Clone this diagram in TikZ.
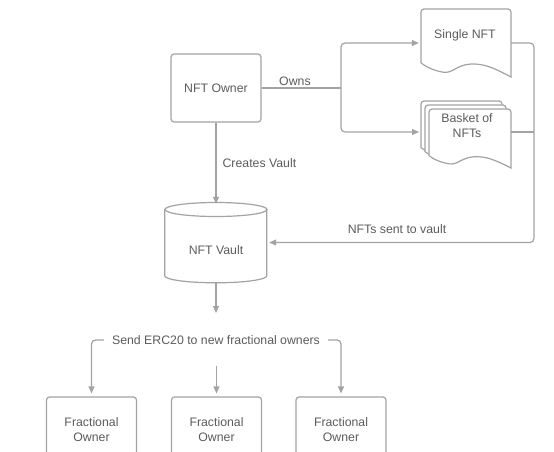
\documentclass[tikz,border=0pt]{standalone}
\usepackage{fontspec}
\setmainfont{Liberation Sans}
\usetikzlibrary{arrows.meta}
\definecolor{lnc}{HTML}{A3A3A3}
\definecolor{txc}{HTML}{5C5C5C}
\newcommand\docshape[4]{%
  \begin{scope}[shift={(#1,#2)},xscale=#3,yscale=#4]
    \draw[docline] (0,0.79) {[rounded corners=3pt] -- (0,0) -- (1,0) -- (1,0.5)} -- (1,1)
      .. controls (0.8,0.86) and (0.7,0.80) .. (0.55,0.81)
      .. controls (0.4,0.82) and (0.35,0.95) .. (0.25,0.93)
      .. controls (0.15,0.91) and (0.05,0.85) .. (0,0.79) -- cycle;
  \end{scope}}
\tikzset{
  lbl/.style={text=txc, font=\fontsize{12.3}{15}\selectfont, inner sep=2pt},
  boxnode/.style={draw=lnc, line width=1.2pt, rounded corners=3pt, fill=white, text=txc,
     font=\fontsize{12.3}{15}\selectfont, align=center},
  ghost/.style={inner sep=0pt, text=txc, font=\fontsize{12.3}{15}\selectfont, align=center},
  docline/.style={draw=lnc, line width=1.2pt, fill=white},
  conn/.style={draw=lnc, line width=1.2pt, rounded corners=4pt},
  arr/.style={conn, -{Triangle[length=7pt,width=6pt]}},
}
\begin{document}
\begin{tikzpicture}[x=1pt,y=-1pt]
\useasboundingbox[fill=white] (0,0) rectangle (554,451);
\clip (0,0) rectangle (554,451);

% NFT Owner
\node[boxnode, minimum width=90pt, minimum height=68pt] (owner) at (216,88) {NFT Owner};

% Single NFT document
\docshape{421}{9}{90}{68}
\node[ghost, minimum width=90pt, minimum height=68pt] (single) at (466,43) {};
\node[lbl] (singletxt) at (465,35) {Single NFT};

% Basket of NFTs (stacked documents)
\docshape{421}{101}{81}{59}
\docshape{425}{105}{81}{59}
\docshape{429}{109}{82}{59}
\coordinate (basketl) at (421,132);
\coordinate (basketr) at (511,132);
\node[ghost] (baskettxt) at (467,126) {Basket of\\NFTs};

% NFT Vault (cylinder)
\node[ghost, minimum width=102pt, minimum height=81pt] (vault) at (216,242.5) {};
\draw[docline] (vault.north west) ++(0,7) -- ++(0,67)
   arc[start angle=180, end angle=0, x radius=51, y radius=7] -- ++(0,-67);
\draw[docline] (216,209.5) ellipse [x radius=51, y radius=7];
\node[lbl] (vaulttxt) at (216,250) {NFT Vault};

% Owns
\coordinate (junc) at (341,88);
\draw[conn] (owner.east) -- node[lbl, above, yshift=0pt, pos=0.42] (owns) {Owns} (junc);
\draw[arr] (junc) |- ([xshift=-2pt]single.west);
\draw[arr] (junc) |- ([xshift=-2pt]basketl);

% Creates Vault
\draw[arr] (owner.south) -- node[lbl, right, xshift=4pt] (creates) {Creates Vault} ([yshift=-2pt]vault.north);

% NFTs sent to vault
\coordinate (rc) at (534,43);
\draw[arr] (single.east) -- (rc) |- ([xshift=2pt]vault.east);
\draw[conn] (basketr) -- (534,132);
\node[lbl] (sent) at (397,229) {NFTs sent to vault};

% Vault down arrow
\coordinate (vaultend) at (216,313);
\draw[arr] (vault.south) -- (vaultend);

% Fractional owners
\node[boxnode, minimum width=90pt, minimum height=65pt] (frac1) at (91.5,429.5) {Fractional\\Owner};
\node[boxnode, minimum width=90pt, minimum height=65pt] (frac2) at (216.5,429.5) {Fractional\\Owner};
\node[boxnode, minimum width=90pt, minimum height=65pt] (frac3) at (341,429.5) {Fractional\\Owner};

\node[lbl, inner xsep=8pt] (send) at (216,340) {Send ERC20 to new fractional owners};
\draw[arr, shorten >=3pt] (send.west) -| (frac1.north);
\draw[arr, shorten >=3pt] (send.east) -| (frac3.north);
\coordinate (midstart) at (216.5,366);
\draw[arr, shorten >=3pt] (midstart) -- (frac2.north);
\end{tikzpicture}
\end{document}
